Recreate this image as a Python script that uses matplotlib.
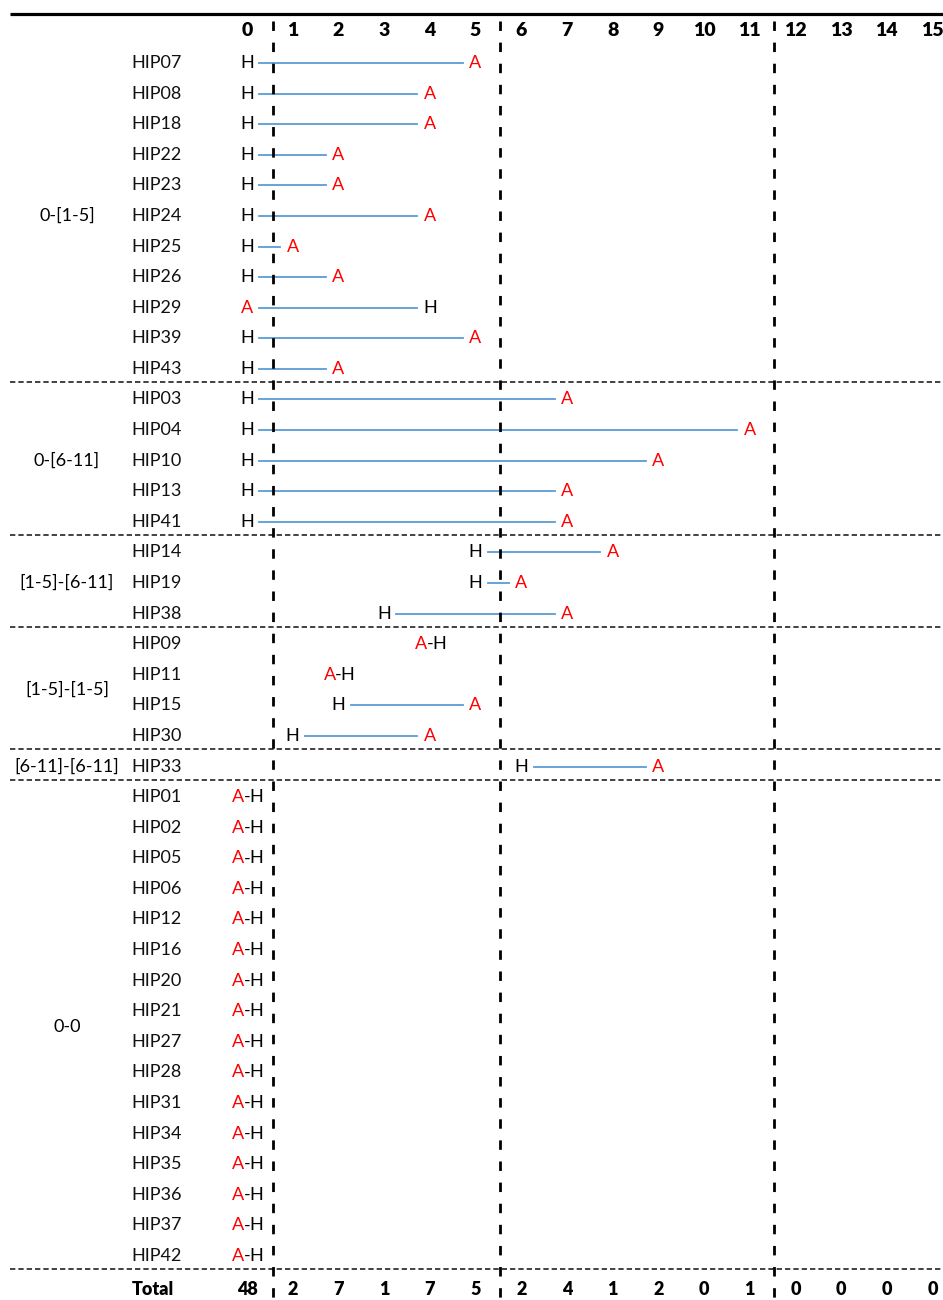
import matplotlib
matplotlib.use('Agg')
import matplotlib.pyplot as plt

plt.rcParams['font.family'] = ['Lato', 'DejaVu Sans']

# 数据
columns = list(range(16))
totals = [48, 2, 7, 1, 7, 5, 2, 4, 1, 2, 0, 1, 0, 0, 0, 0]

groups = ['0-[1-5]', '0-[6-11]', '[1-5]-[6-11]', '[1-5]-[1-5]', '[6-11]-[6-11]', '0-0']
group_sizes = [11, 5, 3, 4, 1, 16]

ids = ['HIP07', 'HIP08', 'HIP18', 'HIP22', 'HIP23', 'HIP24', 'HIP25', 'HIP26', 'HIP29', 'HIP39', 'HIP43',
       'HIP03', 'HIP04', 'HIP10', 'HIP13', 'HIP41',
       'HIP14', 'HIP19', 'HIP38',
       'HIP09', 'HIP11', 'HIP15', 'HIP30',
       'HIP33',
       'HIP01', 'HIP02', 'HIP05', 'HIP06', 'HIP12', 'HIP16', 'HIP20', 'HIP21', 'HIP27', 'HIP28',
       'HIP31', 'HIP34', 'HIP35', 'HIP36', 'HIP37', 'HIP42']
h_pos = [0, 0, 0, 0, 0, 0, 0, 0, 4, 0, 0,
         0, 0, 0, 0, 0,
         5, 5, 3,
         4, 2, 2, 1,
         6] + [0] * 16
a_pos = [5, 4, 4, 2, 2, 4, 1, 2, 0, 5, 2,
         7, 11, 9, 7, 7,
         8, 6, 7,
         4, 2, 5, 4,
         9] + [0] * 16

boundaries = [0.57, 5.54, 11.53]  # 竖向虚线

RED = '#ff0000'
BLUE = '#5b9bd5'
FS = 13

fig = plt.figure(figsize=(9.43, 13), dpi=100)
ax = fig.add_axes([0, 0, 1, 1])
ax.set_xlim(-5.405, 15.23)
ax.set_ylim(40.44, -2.06)
ax.axis('off')

# 顶部粗线
ax.plot([-5.19, 15.23], [-1.6, -1.6], color='black', lw=2.3, solid_capstyle='butt')

# 表头
for c in columns:
    ax.text(c, -1.05, str(c), ha='center', va='center', fontsize=FS + 1, fontweight='heavy')

# 每一行
gap = 0.27
for r, (name, h, a) in enumerate(zip(ids, h_pos, a_pos)):
    ax.text(-2.52, r, name, ha='left', va='center', fontsize=FS, color='#111111')
    if h == a:
        ax.text(a - 0.19, r, 'A', ha='center', va='center', fontsize=FS, color=RED)
        ax.text(a, r, '-', ha='center', va='center', fontsize=FS, color='black')
        ax.text(a + 0.2, r, 'H', ha='center', va='center', fontsize=FS, color='black')
    else:
        lo, hi = min(h, a), max(h, a)
        ax.plot([lo + gap, hi - gap], [r, r], color=BLUE, lw=1.3, zorder=1)
        ax.text(h, r, 'H', ha='center', va='center', fontsize=FS, color='black')
        ax.text(a, r, 'A', ha='center', va='center', fontsize=FS, color=RED)

# 分组标签和横向虚线
start = 0
for g, n in zip(groups, group_sizes):
    ax.text(-3.94, start + (n - 1) / 2, g, ha='center', va='center', fontsize=FS)
    end = start + n
    ax.plot([-5.19, 15.23], [end - 0.56, end - 0.56], color='#222222', lw=1.2,
            dashes=(3.2, 1.8), zorder=0)
    start = end

# 竖向虚线
for b in boundaries:
    ax.plot([b, b], [-1.38, 40.44], color='black', lw=2, dashes=(3.4, 4.2), zorder=2)

# 合计
ax.text(-2.52, 40.1, 'Total', ha='left', va='center', fontsize=FS, fontweight='heavy')
for c, t in zip(columns, totals):
    ax.text(c, 40.1, str(t), ha='center', va='center', fontsize=FS, fontweight='heavy')

fig.savefig('out.png', dpi=100)
